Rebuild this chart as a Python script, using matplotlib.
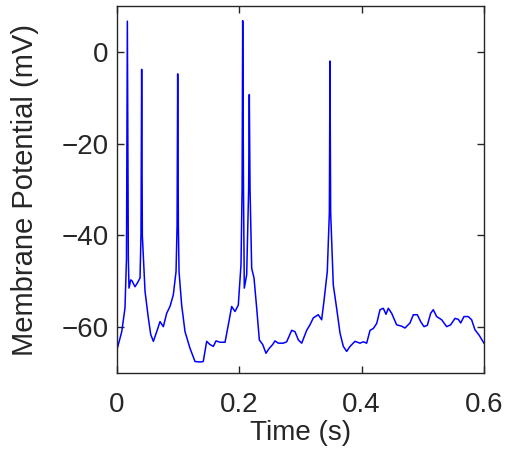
import numpy as np
import matplotlib
matplotlib.use("Agg")
import matplotlib.pyplot as plt

# Trace (time in s, potential in mV)
time_s = [0.0, 0.0077, 0.013, 0.0155, 0.0169, 0.0185, 0.0196, 0.0224, 0.0245, 0.0294,
          0.0332, 0.0376, 0.0392, 0.0403, 0.0414, 0.0458, 0.0512, 0.0551, 0.0594,
          0.0649, 0.0703, 0.0757, 0.0812, 0.0866, 0.092, 0.0965, 0.0982, 0.0992,
          0.1003, 0.1014, 0.1057, 0.1112, 0.1193, 0.1275, 0.1357, 0.141, 0.1466,
          0.152, 0.1575, 0.1619, 0.1684, 0.1766, 0.182, 0.1875, 0.1929, 0.1983,
          0.2027, 0.2045, 0.2055, 0.2068, 0.2081, 0.212, 0.2152, 0.2163, 0.2175,
          0.2202, 0.224, 0.2284, 0.2327, 0.2382, 0.2436, 0.249, 0.2545, 0.2583,
          0.2637, 0.2719, 0.2774, 0.2856, 0.291, 0.2965, 0.302, 0.3101, 0.3155,
          0.3209, 0.329, 0.3346, 0.3383, 0.3438, 0.3472, 0.3482, 0.3493, 0.3536,
          0.3591, 0.3646, 0.37, 0.3755, 0.381, 0.3891, 0.3973, 0.4027, 0.4082,
          0.4137, 0.4191, 0.4246, 0.43, 0.4354, 0.4398, 0.4436, 0.4491, 0.4572,
          0.4654, 0.4708, 0.479, 0.4845, 0.491, 0.4965, 0.5019, 0.5074, 0.5128,
          0.5171, 0.5226, 0.5308, 0.539, 0.5455, 0.5526, 0.558, 0.5619, 0.5673,
          0.5743, 0.5798, 0.5853, 0.5918, 0.6]
potential_mv = [-64.9, -61.0, -55.9, -45.0, 6.7, -45.0, -51.5, -49.7, -49.9, -51.2,
                -50.4, -49.3, -40.0, -3.8, -40.0, -52.2, -58.0, -61.6, -63.1,
                -61.0, -58.8, -59.9, -57.0, -55.5, -53.0, -47.9, -38.0, -4.8,
                -38.0, -47.9, -55.2, -61.0, -64.6, -67.5, -67.6, -67.5, -63.1,
                -63.8, -64.2, -63.0, -63.3, -63.3, -59.5, -55.5, -56.6, -55.2,
                -46.4, -30.0, 6.8, -30.0, -51.5, -48.6, -30.0, -9.3, -30.0,
                -47.2, -49.3, -55.9, -62.8, -63.8, -65.7, -64.6, -63.8, -63.0,
                -63.5, -63.5, -63.2, -60.7, -61.0, -62.8, -63.5, -60.7, -59.5,
                -58.0, -57.3, -58.4, -54.4, -47.9, -35.0, -2.0, -35.0, -50.8,
                -55.9, -61.3, -64.2, -65.3, -64.2, -63.1, -63.5, -63.2, -63.5,
                -60.7, -60.3, -59.2, -56.2, -55.9, -57.2, -55.9, -57.0, -59.5,
                -59.8, -60.2, -59.1, -57.3, -57.3, -58.8, -59.9, -59.6, -57.0,
                -56.2, -57.7, -58.4, -59.9, -59.5, -58.1, -58.3, -59.1, -57.7,
                -57.7, -58.4, -60.6, -61.7, -63.5]

x_ticks = [0, 0.2, 0.4, 0.6]
x_tick_labels = ["0", "0.2", "0.4", "0.6"]
y_ticks = [-60, -40, -20, 0]
y_tick_labels = ["\u221260", "\u221240", "\u221220", "0"]

plt.rcParams["font.family"] = ["Liberation Sans", "DejaVu Sans"]

fig = plt.figure(figsize=(5.07, 4.49), dpi=100)
ax = fig.add_axes([0.2308, 0.1693, 0.7238, 0.8173])

ax.plot(time_s, potential_mv, color="#0000ff", lw=1.1)

ax.set_xlim(0, 0.6)
ax.set_ylim(-70, 10)
ax.set_xticks(x_ticks)
ax.set_xticklabels(x_tick_labels)
ax.set_yticks(y_ticks)
ax.set_yticklabels(y_tick_labels)
ax.tick_params(direction="in", length=5, width=1, top=True, right=True,
               labelsize=20, colors="#262626", labelcolor="#262626")
ax.tick_params(axis="x", pad=14)
ax.tick_params(axis="y", pad=6)
for s in ax.spines.values():
    s.set_linewidth(1.0)
    s.set_color("#262626")

ax.set_xlabel("Time (s)", fontsize=20, color="#262626", labelpad=1)
ax.set_ylabel("Membrane Potential (mV)", fontsize=21, color="#262626", labelpad=16)

fig.savefig("out.png", dpi=100)
